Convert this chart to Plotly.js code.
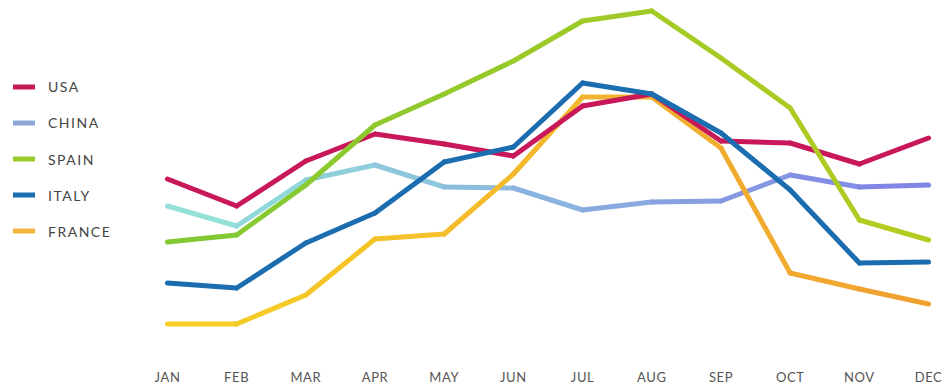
<!DOCTYPE html>
<html>
<head>
<meta charset="utf-8">
<script src="https://cdn.plot.ly/plotly-3.0.1.min.js"></script>
<style>
  html, body { margin: 0; padding: 0; background: #fff; }
  #chart { width: 942px; height: 385px; }
  .js-line { stroke-linecap: round; stroke-linejoin: round; }
  .xtick text { letter-spacing: 0.6px; }
  .annotation-text { letter-spacing: 1.5px; }
</style>
</head>
<body>
<div id="chart"></div>
<script>
// Monthly values per country
const months = ["JAN", "FEB", "MAR", "APR", "MAY", "JUN", "JUL", "AUG", "SEP", "OCT", "NOV", "DEC"];
const countries = ["USA", "CHINA", "SPAIN", "ITALY", "FRANCE"];
const usa    = [16.1, 13.4, 17.9, 20.6, 19.6, 18.4, 23.4, 24.6, 19.9, 19.7, 17.6, 20.2];
const china  = [13.4, 11.4, 16.0, 17.5, 15.3, 15.2, 13.0, 13.8, 13.9, 16.5, 15.3, 15.5];
const spain  = [ 9.8, 10.5, 15.5, 21.5, 24.6, 27.9, 31.9, 32.9, 28.2, 23.2, 12.0, 10.0];
const italy  = [ 5.7,  5.2,  9.7, 12.7, 17.8, 19.3, 25.7, 24.6, 20.7, 15.0,  7.7,  7.8];
const france = [ 1.6,  1.6,  4.5, 10.1, 10.6, 16.6, 24.3, 24.3, 19.2,  6.7,  5.1,  3.6];

const seriesValues = [usa, china, spain, italy, france];

// Each line fades from its January color to its December color
const startColors = ["#c8185a", "#94e6d8", "#80c834", "#1c6db0", "#f6d024"];
const endColors   = ["#c8185a", "#8080e6", "#b6cc1e", "#1c6db0", "#f0a032"];
const legendColors = ["#c41a55", "#8ea6d8", "#9cc82a", "#1c6db0", "#f2b43a"];

// Stacking order of the lines, bottom first
const drawOrder = [1, 4, 0, 3, 2];

const W = 942, H = 385;
const margin = { l: 164, r: 10, t: 5, b: 45 };
const plotW = W - margin.l - margin.r;
const plotH = H - margin.t - margin.b;
const px2paperX = px => (px - margin.l) / plotW;
const px2paperY = py => (H - margin.b - py) / plotH;

function hexToRgb(h) {
  const n = parseInt(h.slice(1), 16);
  return [(n >> 16) & 255, (n >> 8) & 255, n & 255];
}
function mix(a, b, t) {
  const ca = hexToRgb(a), cb = hexToRgb(b);
  const c = ca.map((v, i) => Math.round(v + (cb[i] - v) * t));
  return "rgb(" + c.join(",") + ")";
}

const traces = [];
drawOrder.forEach(i => {
  const vals = seriesValues[i];
  const n = vals.length;
  for (let k = 0; k < n - 1; k++) {
    const t = (k + 0.5) / (n - 1);
    traces.push({
      type: "scatter",
      mode: "lines",
      name: countries[i],
      legendgroup: countries[i],
      x: months.slice(k, k + 2),
      y: vals.slice(k, k + 2),
      line: { color: mix(startColors[i], endColors[i], t), width: 5 },
      hoverinfo: "x+y+name"
    });
  }
});

// Legend on the left: a short colored bar and the country name
const shapes = [];
const annotations = [];
const legendTop = 87, legendStep = 36;
countries.forEach((name, i) => {
  const y = px2paperY(legendTop + i * legendStep);
  shapes.push({
    type: "line", xref: "paper", yref: "paper",
    x0: px2paperX(13), x1: px2paperX(35), y0: y, y1: y,
    line: { color: legendColors[i], width: 5 }
  });
  annotations.push({
    xref: "paper", yref: "paper",
    x: px2paperX(46), y: y,
    xanchor: "left", yanchor: "middle",
    text: name, showarrow: false,
    font: { family: "Lato, sans-serif", size: 14, color: "#444" }
  });
});

const layout = {
  width: W, height: H,
  margin: margin,
  paper_bgcolor: "#fff",
  plot_bgcolor: "#fff",
  showlegend: false,
  xaxis: {
    type: "category",
    range: [-0.05, 11.05],
    showgrid: false, zeroline: false, showline: false,
    ticks: "",
    ticklabelstandoff: 28,
    tickfont: { family: "Lato, sans-serif", size: 13, color: "#555" },
    fixedrange: true
  },
  yaxis: {
    range: [0, 33.5],
    visible: false,
    showgrid: false, zeroline: false,
    fixedrange: true
  },
  shapes: shapes,
  annotations: annotations
};

Plotly.newPlot("chart", traces, layout, { displayModeBar: false, staticPlot: true });
</script>
</body>
</html>
